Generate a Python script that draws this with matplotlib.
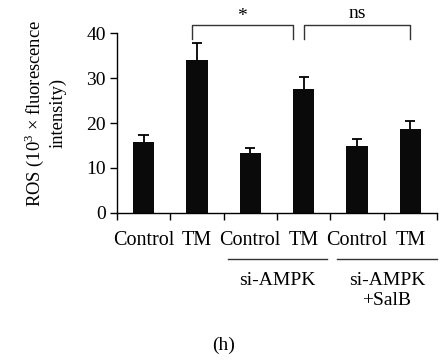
import matplotlib
matplotlib.use("Agg")
import matplotlib.pyplot as plt

plt.rcParams['font.family'] = ['Liberation Serif', 'DejaVu Serif']
plt.rcParams['mathtext.fontset'] = 'custom'
plt.rcParams['mathtext.rm'] = 'Liberation Serif'

# data
labels = ["Control", "TM", "Control", "TM", "Control", "TM"]
means = [15.7, 34.0, 13.3, 27.6, 15.0, 18.7]
errs = [1.6, 3.9, 1.2, 2.6, 1.5, 1.7]
groups = ["si-AMPK", "si-AMPK\n+SalB"]
sig_labels = ["*", "ns"]

fs = 14
fig = plt.figure(figsize=(4.41, 3.64), dpi=100)
ax = fig.add_axes([0.265, 0.415, 0.726, 0.494])

x = list(range(len(means)))
ax.bar(x, means, width=0.4, color='#0a0a0a', zorder=2)
tops = [m + e for m, e in zip(means, errs)]
ax.vlines(x, means, tops, color='black', lw=1.3, zorder=3)
ax.hlines(tops, [i - 0.095 for i in x], [i + 0.095 for i in x],
          color='black', lw=1.3, zorder=3)

ax.set_xlim(-0.5, 5.5)
ax.set_ylim(0, 40)
ax.set_yticks([0, 10, 20, 30, 40])
ax.tick_params(axis='y', labelsize=fs, length=5, width=1, direction='out', pad=3)
ax.set_xticks([i - 0.5 for i in range(7)])
ax.set_xticklabels([])
ax.tick_params(axis='x', length=5, width=1, direction='out')
ax.set_xticks(x, minor=True)
ax.set_xticklabels(labels, minor=True, fontsize=14.5)
ax.tick_params(axis='x', which='minor', length=0, pad=13)
for s in ['top', 'right']:
    ax.spines[s].set_visible(False)
ax.spines['left'].set_linewidth(1)
ax.spines['bottom'].set_linewidth(1)

ax.set_ylabel("ROS (10$^3$ × fluorescence\nintensity)", fontsize=13.3,
              linespacing=1.2)
ax.yaxis.set_label_coords(-0.158, 0.555)

# significance brackets
brackets = [(0.9, 2.8), (3.0, 5.0)]
for (x0, x1), lab in zip(brackets, sig_labels):
    ax.plot([x0, x0, x1, x1], [38.8, 41.9, 41.9, 38.8], color='#333333',
            lw=1, clip_on=False)
ax.text((brackets[0][0] + brackets[0][1]) / 2, 41.8, sig_labels[0],
        ha='center', va='bottom', fontsize=fs, clip_on=False)
ax.text((brackets[1][0] + brackets[1][1]) / 2, 42.5, sig_labels[1],
        ha='center', va='bottom', fontsize=fs, clip_on=False)

# group lines under the axis
trans = ax.get_xaxis_transform()
spans = [(1.58, 3.44), (3.62, 5.5)]
for (x0, x1), g in zip(spans, groups):
    ax.plot([x0, x1], [-0.255, -0.255], color='#333333', lw=1,
            transform=trans, clip_on=False)
    ax.text((x0 + x1) / 2, -0.33, g, transform=trans, ha='center', va='top',
            fontsize=fs, linespacing=1.2)

fig.text(0.508, 0.052, "(h)", ha='center', va='center', fontsize=fs)

fig.savefig("out.png", dpi=100)
